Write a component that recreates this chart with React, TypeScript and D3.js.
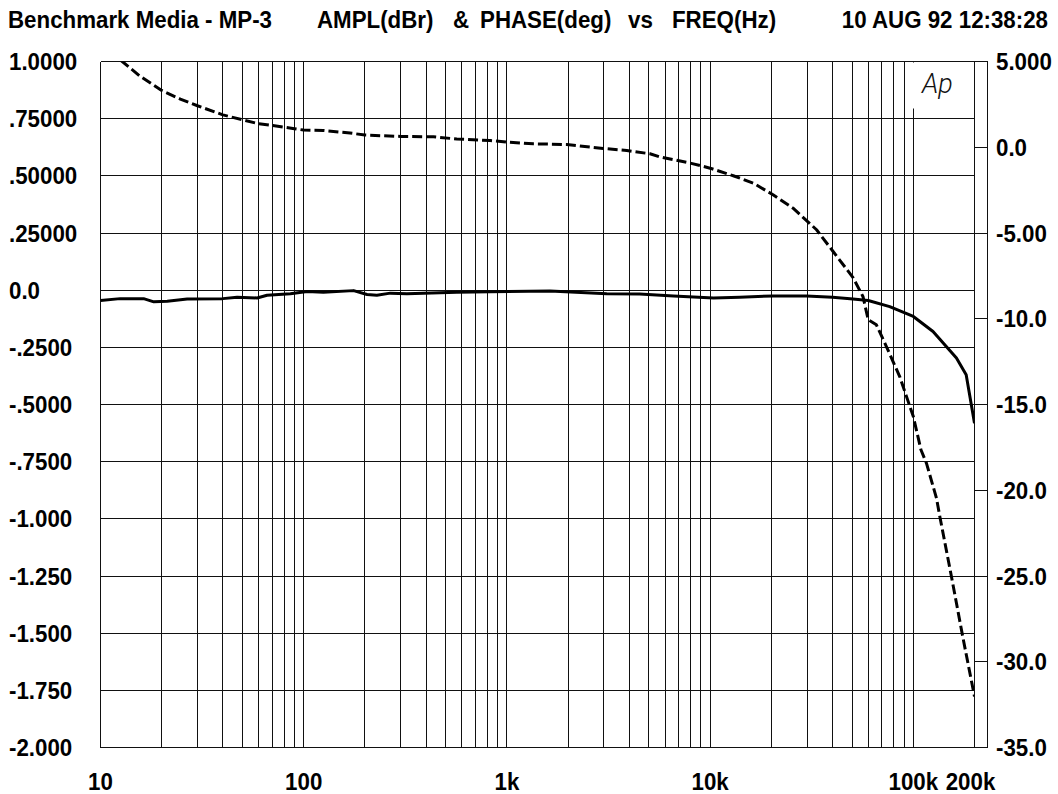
import React from "react";
import * as d3 from "d3";

// amplitude sweep (dBr), solid trace, left axis
const ampFreq = [10, 12.5, 16.3, 18.3, 21.3, 26.7, 40, 47, 59, 66, 86, 104, 125, 176, 205, 229, 267, 322, 389, 567, 827, 1630, 3100, 4500, 6600, 10400, 14000, 20400, 29800, 40000, 50500, 60000, 76500, 100000, 125000, 163000, 182000, 200000];
const ampDb = [-0.045, -0.037, -0.037, -0.051, -0.048, -0.039, -0.037, -0.031, -0.034, -0.022, -0.016, -0.006, -0.009, -0.002, -0.019, -0.022, -0.013, -0.016, -0.013, -0.009, -0.007, -0.004, -0.016, -0.017, -0.025, -0.034, -0.031, -0.025, -0.025, -0.031, -0.039, -0.045, -0.072, -0.115, -0.181, -0.297, -0.37, -0.582];

// phase sweep (deg), dashed trace, right axis
const phaseFreq = [10, 12.5, 15.7, 20, 24.7, 30, 40, 50, 60, 70, 90, 100, 125, 169, 200, 300, 435, 567, 827, 1000, 1350, 1970, 2980, 3890, 5060, 5670, 7960, 10000, 13000, 16300, 20400, 25600, 33400, 40300, 50500, 56500, 60000, 65800, 73700, 85700, 100000, 109000, 116000, 130000, 135000, 154000, 175000, 200000];
const phaseDeg = [6.2, 5.1, 4.13, 3.31, 2.81, 2.42, 1.89, 1.6, 1.37, 1.27, 1.08, 1.0, 0.98, 0.83, 0.71, 0.63, 0.61, 0.48, 0.39, 0.3, 0.2, 0.16, -0.07, -0.19, -0.38, -0.57, -0.92, -1.22, -1.66, -2.09, -2.77, -3.55, -4.81, -6.08, -7.6, -8.7, -10.06, -10.35, -11.62, -13.37, -15.7, -17.64, -18.42, -20.46, -21.53, -25.03, -28.53, -32.03];

const leftTicks = [1, 0.75, 0.5, 0.25, 0, -0.25, -0.5, -0.75, -1, -1.25, -1.5, -1.75, -2];
const leftLabels = ["1.0000", ".75000", ".50000", ".25000", "0.0", "-.2500", "-.5000", "-.7500", "-1.000", "-1.250", "-1.500", "-1.750", "-2.000"];
const rightTicks = [5, 0, -5, -10, -15, -20, -25, -30, -35];
const rightLabels = ["5.000", "0.0", "-5.00", "-10.0", "-15.0", "-20.0", "-25.0", "-30.0", "-35.0"];
const freqTicks = [10, 100, 1000, 10000, 100000, 200000];
const freqLabels = ["10", "100", "1k", "10k", "100k", "200k"];

const W = 1058;
const H = 794;
const left = 100.5;
const gridRight = 974.5;
const frameRight = 987.5;
const top = 61.5;
const bottom = 747.5;

const FONT = "'Liberation Sans', Arial, Helvetica, sans-serif";
const FS = 24;
const SX = 0.93;

const Label = ({ x, y, anchor = "start", children }) => (
  <g transform={`translate(${x},${y}) scale(${SX},1)`}>
    <text textAnchor={anchor} fontFamily={FONT} fontWeight="bold" fontSize={FS} fill="#000">
      {children}
    </text>
  </g>
);

const App = () => {
  const x = d3.scaleLog().domain([10, 200000]).range([left, gridRight]);
  const yL = d3.scaleLinear().domain([-2, 1]).range([bottom, top]);
  const yR = d3.scaleLinear().domain([-35, 5]).range([bottom, top]);

  // grid: 2..9 of every decade, up to 200k
  const vGrid: number[] = [];
  for (let dec = 10; dec <= 100000; dec *= 10) {
    for (let m = 1; m <= 9; m++) {
      const f = dec * m;
      if (f > 10 && f <= 200000) vGrid.push(f);
    }
  }

  const ampLine = d3
    .line<number>()
    .x((d, i) => x(ampFreq[i]))
    .y(d => yL(d));
  const phaseLine = d3
    .line<number>()
    .x((d, i) => x(phaseFreq[i]))
    .y(d => yR(d));

  const half = (FS * 0.716) / 2;
  const logoX0 = x(100000) - 5;

  return (
    <svg width={W} height={H} style={{ position: "absolute", left: 0, top: 0, background: "#fff" }}>
      <defs>
        <clipPath id="plot">
          <rect x={left} y={top} width={gridRight - left} height={bottom - top} />
        </clipPath>
      </defs>
      <rect width={W} height={H} fill="#fff" />

      {/* header */}
      <Label x={8} y={28}>Benchmark Media - MP-3</Label>
      <Label x={317} y={28}>AMPL(dBr)</Label>
      <Label x={453} y={28}>&amp;</Label>
      <Label x={480} y={28}>PHASE(deg)</Label>
      <Label x={628} y={28}>vs</Label>
      <Label x={672} y={28}>FREQ(Hz)</Label>
      <Label x={1048} y={28} anchor="end">10 AUG 92 12:38:28</Label>

      <g stroke="#111" strokeWidth={1} shapeRendering="crispEdges">
        {vGrid.map(f => (
          <line key={f} x1={x(f)} x2={x(f)} y1={top} y2={bottom} />
        ))}
        {leftTicks.map(v => (
          <line key={"h" + v} x1={left} x2={gridRight} y1={yL(v)} y2={yL(v)} />
        ))}
        {rightTicks.map(v => (
          <line key={"r" + v} x1={gridRight} x2={frameRight} y1={yR(v)} y2={yR(v)} />
        ))}
        <line x1={left} x2={left} y1={top} y2={bottom} />
        <line x1={frameRight} x2={frameRight} y1={top} y2={bottom} />
      </g>

      {/* Ap logo */}
      <rect x={logoX0} y={top + 1} width={gridRight - logoX0 - 1} height={46} fill="#fff" />
      <text x={922} y={93} fontFamily="Roboto, 'DejaVu Sans', sans-serif" fontWeight={300} fontStyle="italic" fontSize={27} fill="#111">
        Ap
      </text>

      <g clipPath="url(#plot)" fill="none" stroke="#000" strokeWidth={3} strokeLinejoin="round">
        <path d={ampLine(ampDb) || ""} />
        <path d={phaseLine(phaseDeg) || ""} strokeDasharray="10 4" />
      </g>

      {leftTicks.map((v, i) => (
        <Label key={"ll" + v} x={9} y={yL(v) + half}>{leftLabels[i]}</Label>
      ))}
      {rightTicks.map((v, i) => (
        <Label key={"rl" + v} x={996} y={yR(v) + half}>{rightLabels[i]}</Label>
      ))}
      {freqTicks.map((f, i) => (
        <Label key={"fl" + f} x={x(f) - (f === 200000 ? 4 : 0)} y={790} anchor="middle">{freqLabels[i]}</Label>
      ))}
    </svg>
  );
};

export default App;
